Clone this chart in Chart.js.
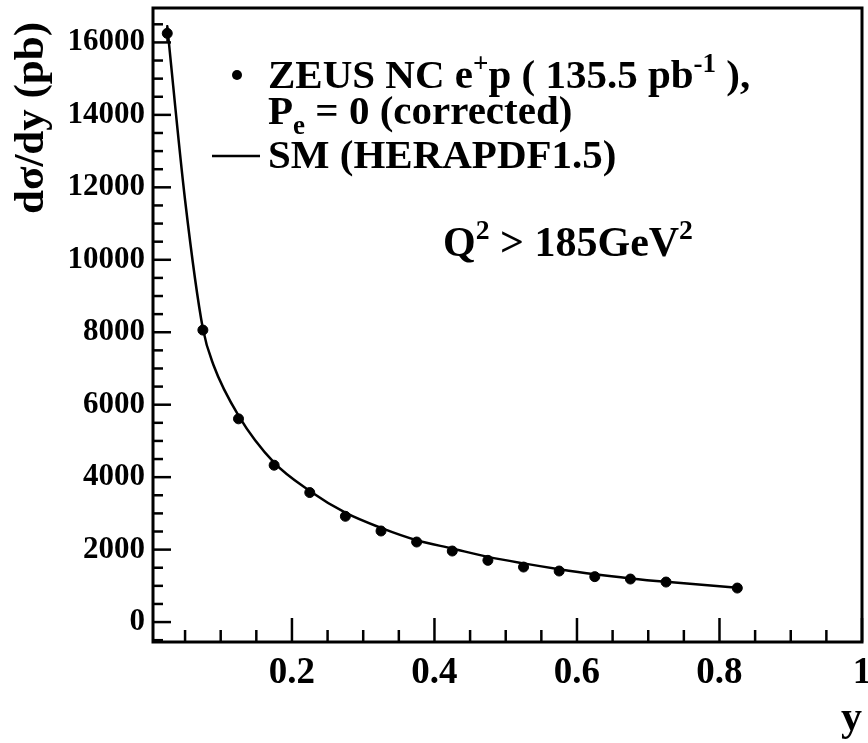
<!DOCTYPE html>
<html>
<head>
<meta charset="utf-8">
<script src="https://cdn.jsdelivr.net/npm/chart.js@4.4.1/dist/chart.umd.min.js"></script>
<style>
  html, body { margin: 0; padding: 0; background: #fff; }
  #wrap { width: 868px; height: 743px; position: relative; }
</style>
</head>
<body>
<div id="wrap"><canvas id="c"></canvas></div>
<script>
// ---- data ----
const yBinCentres = [0.025, 0.075, 0.125, 0.175, 0.225, 0.275, 0.325, 0.375, 0.425, 0.475, 0.525, 0.575, 0.625, 0.675, 0.725, 0.825];
const zeusXsec    = [16250, 8060, 5610, 4330, 3575, 2920, 2514, 2210, 1961, 1704, 1519, 1409, 1254, 1188, 1105, 939];
const zeusErr     = [230, 130, 100, 80, 70, 60, 55, 50, 45, 40, 40, 35, 35, 35, 35, 30];

const smY     = [0.025, 0.05, 0.075, 0.09, 0.125, 0.175, 0.225, 0.275, 0.325, 0.375, 0.425, 0.475, 0.525, 0.575, 0.625, 0.675, 0.725, 0.825];
const smXsec  = [16440, 11650, 8100, 7090, 5700, 4400, 3620, 3020, 2600, 2260, 2030, 1800, 1620, 1460, 1320, 1205, 1110, 950];

const xTickValues = [0.2, 0.4, 0.6, 0.8, 1];
const xTickLabels = ['0.2', '0.4', '0.6', '0.8', '1'];
const yTickValues = [0, 2000, 4000, 6000, 8000, 10000, 12000, 14000, 16000];
const yTickLabels = ['0', '2000', '4000', '6000', '8000', '10000', '12000', '14000', '16000'];

const xTitle = 'y';
const yTitle = 'dσ/dy (pb)';
const legendData = [{t:'ZEUS NC e'}, {t:'+', sup:true}, {t:'p ( 135.5 pb'}, {t:'-1', sup:true}, {t:' ),'}];
const legendData2 = [{t:'P'}, {t:'e', sub:true}, {t:' = 0 (corrected)'}];
const legendSM = [{t:'SM (HERAPDF1.5)'}];
const cutText = [{t:'Q'}, {t:'2', sup:true}, {t:' > 185GeV'}, {t:'2', sup:true}];

const FONT = '"Liberation Serif", "Times New Roman", serif';

function drawRich(ctx, x, y, segs, size) {
  let cx = x;
  ctx.textBaseline = 'alphabetic';
  ctx.textAlign = 'left';
  for (const s of segs) {
    let fs = size, dy = 0;
    if (s.sup) { fs = size * 0.66; dy = -size * 0.40; }
    if (s.sub) { fs = size * 0.66; dy = size * 0.25; }
    ctx.font = 'bold ' + fs + 'px ' + FONT;
    ctx.fillText(s.t, cx, y + dy);
    cx += ctx.measureText(s.t).width;
  }
  return cx;
}

const decorPlugin = {
  id: 'decor',
  afterDatasetsDraw(chart) {
    const {ctx, scales: {x, y}} = chart;
    ctx.save();
    ctx.strokeStyle = '#000';
    ctx.lineWidth = 2;
    yBinCentres.forEach((v, i) => {
      const px = x.getPixelForValue(v);
      const p1 = y.getPixelForValue(zeusXsec[i] + zeusErr[i]);
      const p2 = y.getPixelForValue(zeusXsec[i] - zeusErr[i]);
      ctx.beginPath(); ctx.moveTo(px, p1); ctx.lineTo(px, p2); ctx.stroke();
    });
    ctx.restore();
  },
  afterDraw(chart) {
    const {ctx, chartArea: a, scales: {x, y}} = chart;
    ctx.save();
    ctx.strokeStyle = '#000';
    ctx.fillStyle = '#000';
    ctx.lineWidth = 3;
    ctx.strokeRect(a.left, a.top, a.right - a.left, a.bottom - a.top);
    ctx.lineWidth = 2.5;
    for (let k = 1; k <= 20; k++) {
      const v = k * 0.05;
      if (v > x.max + 1e-9) break;
      const px = x.getPixelForValue(v);
      const major = (k % 4 === 0);
      ctx.beginPath(); ctx.moveTo(px, a.bottom); ctx.lineTo(px, a.bottom - (major ? 24 : 12)); ctx.stroke();
    }
    for (let k = -1; k <= 34; k++) {
      const v = k * 500;
      if (v < y.min || v > y.max) continue;
      const py = y.getPixelForValue(v);
      const major = (k % 4 === 0);
      ctx.beginPath(); ctx.moveTo(a.left, py); ctx.lineTo(a.left + (major ? 18 : 10), py); ctx.stroke();
    }
    // axis titles
    ctx.font = 'bold 43px ' + FONT;
    ctx.save();
    ctx.translate(43, 22);
    ctx.rotate(-Math.PI / 2);
    ctx.textAlign = 'right';
    ctx.textBaseline = 'alphabetic';
    ctx.fillText(yTitle, 0, 0);
    ctx.restore();
    ctx.textAlign = 'right';
    ctx.textBaseline = 'alphabetic';
    ctx.font = 'bold 42px ' + FONT;
    ctx.fillText(xTitle, 862, 730);
    // legend
    ctx.beginPath(); ctx.arc(237, 75, 5, 0, Math.PI * 2); ctx.fill();
    drawRich(ctx, 268, 88, legendData, 41);
    drawRich(ctx, 268, 124, legendData2, 41);
    ctx.lineWidth = 2.5;
    ctx.beginPath(); ctx.moveTo(212, 156); ctx.lineTo(260, 156); ctx.stroke();
    drawRich(ctx, 268, 168, legendSM, 41);
    drawRich(ctx, 443, 256, cutText, 42);
    ctx.restore();
  }
};

new Chart(document.getElementById('c'), {
  type: 'scatter',
  data: {
    datasets: [
      {
        type: 'line',
        label: 'SM (HERAPDF1.5)',
        data: smY.map((v, i) => ({x: v, y: smXsec[i]})),
        borderColor: '#000',
        borderWidth: 2.5,
        pointRadius: 0,
        fill: false,
        cubicInterpolationMode: 'monotone',
        order: 2
      },
      {
        label: 'ZEUS NC e+p',
        data: yBinCentres.map((v, i) => ({x: v, y: zeusXsec[i]})),
        backgroundColor: '#000',
        borderColor: '#000',
        pointRadius: 5,
        pointHoverRadius: 5,
        order: 1
      }
    ]
  },
  options: {
    responsive: true,
    maintainAspectRatio: false,
    animation: false,
    events: [],
    layout: { padding: { left: 0, top: 8, right: 6, bottom: 0 } },
    plugins: { legend: { display: false }, tooltip: { enabled: false } },
    scales: {
      x: {
        type: 'linear',
        min: 0.005, max: 1.0,
        grid: { display: false, drawTicks: false },
        border: { display: false },
        afterBuildTicks(s) { s.ticks = xTickValues.map(v => ({value: v})); },
        afterFit(s) { s.height = 101; s.paddingLeft = 0; s.paddingRight = 0; },
        ticks: {
          color: '#000',
          padding: 9,
          maxRotation: 0,
          autoSkip: false,
          font: { family: FONT, size: 37, weight: 'bold' },
          callback(v) { const i = xTickValues.indexOf(v); return i >= 0 ? xTickLabels[i] : ''; }
        }
      },
      y: {
        type: 'linear',
        min: -550, max: 16950,
        grid: { display: false, drawTicks: false },
        border: { display: false },
        afterBuildTicks(s) { s.ticks = yTickValues.map(v => ({value: v})); },
        afterFit(s) { s.width = 153; s.paddingTop = 0; s.paddingBottom = 0; },
        ticks: {
          color: '#000',
          padding: 8,
          autoSkip: false,
          font: { family: FONT, size: 31, weight: 'bold' },
          callback(v) { const i = yTickValues.indexOf(v); return i >= 0 ? yTickLabels[i] : ''; }
        }
      }
    }
  },
  plugins: [decorPlugin]
});
</script>
</body>
</html>
